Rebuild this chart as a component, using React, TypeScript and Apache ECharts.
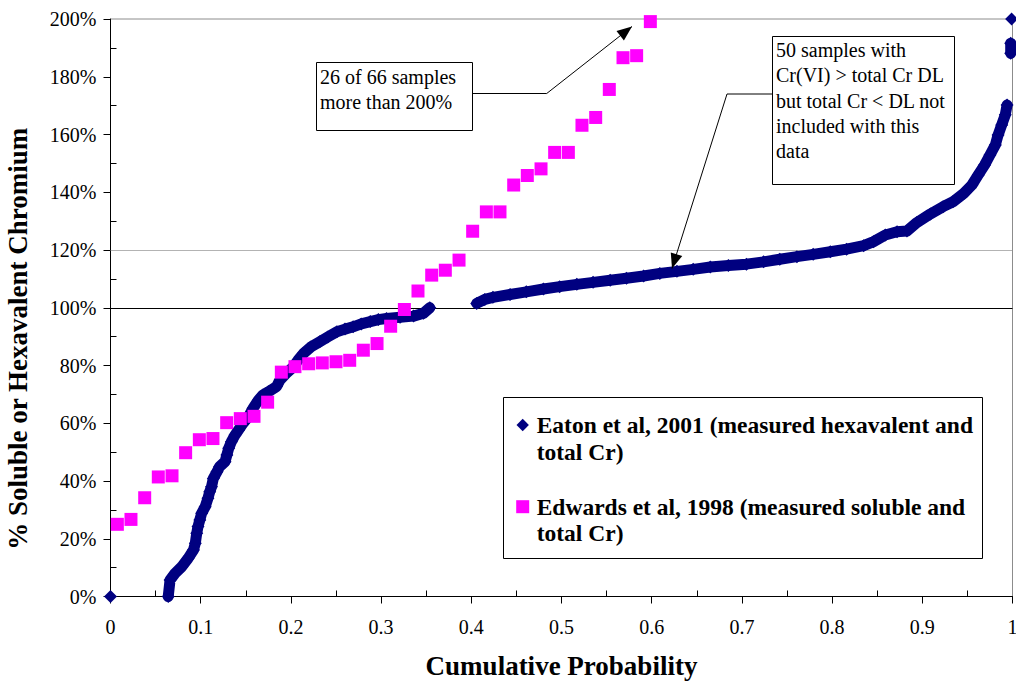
import React, { useEffect, useRef } from "react";
import * as echarts from "echarts";

// ---------- DATA ----------
// Edwards et al, 1998 (measured soluble and total Cr) — 40 of 66 samples shown (<= 200%)
const edwardsProb = [
  0.0076, 0.0227, 0.0379, 0.053, 0.0682, 0.0833, 0.0985, 0.1136, 0.1288, 0.1439,
  0.1591, 0.1742, 0.1894, 0.2045, 0.2197, 0.2348, 0.25, 0.2652, 0.2803, 0.2955,
  0.3106, 0.3258, 0.3409, 0.3561, 0.3712, 0.3864, 0.4015, 0.4167, 0.4318, 0.447,
  0.4621, 0.4773, 0.4924, 0.5076, 0.5227, 0.5379, 0.553, 0.5682, 0.5833, 0.5985,
];
const edwardsPct = [
  25, 26.7, 34.2, 41.4, 41.8, 49.8, 54.3, 54.7, 60.2, 61.6,
  62.4, 67.3, 77.7, 79.6, 80.6, 80.9, 81.3, 81.8, 85.3, 87.6,
  93.6, 99.4, 105.8, 111.3, 113, 116.5, 126.5, 133.2, 133.2, 142.5,
  145.8, 148.1, 153.8, 153.8, 163.2, 165.9, 175.6, 186.6, 187.3, 199.1,
];

const eatonRun0: [number, number][] = [[0, 0]];
const eatonRun1: [number, number][] = [
  [0.064, 0], [0.066, 5.7], [0.0715, 8.0], [0.079, 10.3], [0.086, 13.2], [0.092, 16.1],
  [0.094, 18.4], [0.0956, 21.9], [0.097, 24.2], [0.099, 26.5], [0.101, 28.8], [0.105, 31.1],
  [0.108, 34.0], [0.11, 36.3], [0.112, 38.0], [0.114, 40.9], [0.118, 43.2], [0.121, 45.0],
  [0.127, 46.7], [0.129, 49.0], [0.131, 51.3], [0.134, 53.6], [0.138, 55.9], [0.142, 57.7],
  [0.147, 60.0], [0.153, 62.3], [0.158, 65.2], [0.164, 68.0], [0.169, 69.8], [0.175, 70.9],
  [0.184, 72.7], [0.188, 75.0], [0.195, 77.3], [0.203, 79.6], [0.208, 81.9], [0.214, 84.2],
  [0.222, 86.4], [0.232, 88.2], [0.241, 89.9], [0.251, 91.7], [0.26, 92.6], [0.269, 93.4],
  [0.278, 94.4], [0.288, 95.2], [0.297, 95.9], [0.306, 96.3], [0.321, 96.7], [0.336, 97.1],
  [0.347, 98.1], [0.354, 100],
];
const eatonRun2: [number, number][] = [
  [0.406, 101.5], [0.415, 102.9], [0.424, 103.6], [0.443, 104.6], [0.461, 105.5], [0.48, 106.5],
  [0.498, 107.3], [0.517, 108.1], [0.535, 108.8], [0.554, 109.5], [0.572, 110.2], [0.591, 111.0],
  [0.609, 111.9], [0.628, 112.6], [0.646, 113.3], [0.665, 114.1], [0.685, 114.6], [0.705, 115.1],
  [0.724, 115.9], [0.742, 116.8], [0.761, 117.7], [0.779, 118.5], [0.798, 119.4], [0.816, 120.3],
  [0.835, 121.5], [0.846, 122.9], [0.859, 125.2], [0.872, 126.3], [0.883, 126.6], [0.894, 129.5],
  [0.909, 132.5], [0.923, 135.0], [0.934, 136.7], [0.946, 139.6], [0.955, 142.5], [0.962, 146.0],
  [0.969, 149.4], [0.975, 152.9], [0.981, 156.4], [0.984, 159.8], [0.988, 163.3], [0.992, 166.8],
  [0.994, 170.2],
];
const eatonRun3: [number, number][] = [[0.998, 188.1], [0.998, 191.6]];
const eatonRun4: [number, number][] = [[0.999, 200]];

const referenceSolid = 100;
const referenceDotted = 120;

const seriesNames = [
  "Eaton et al, 2001 (measured hexavalent and total Cr)",
  "Edwards et al, 1998 (measured soluble and total Cr)",
];
const legendLines = [
  "Eaton et al, 2001 (measured hexavalent and\ntotal Cr)",
  "Edwards et al, 1998 (measured soluble and\ntotal Cr)",
];
const note1 = "26 of 66 samples\nmore than 200%";
const note2 = "50 samples with\nCr(VI) > total Cr DL\nbut total Cr < DL not\nincluded with this\ndata";

const xTitle = "Cumulative Probability";
const yTitle = "% Soluble or Hexavalent Chromium";

// ---------- STYLE ----------
const SERIF = "'Liberation Serif', 'Times New Roman', serif";
const NAVY = "#000080";
const MAGENTA = "#FF00FF";

function arrowHead(from: [number, number], tip: [number, number], len = 15, half = 6) {
  const dx = tip[0] - from[0];
  const dy = tip[1] - from[1];
  const d = Math.sqrt(dx * dx + dy * dy);
  const ux = dx / d;
  const uy = dy / d;
  const bx = tip[0] - ux * len;
  const by = tip[1] - uy * len;
  return [
    [tip[0], tip[1]],
    [bx - uy * half, by + ux * half],
    [bx + uy * half, by - ux * half],
  ];
}

export default function App() {
  const ref = useRef<HTMLDivElement>(null);

  useEffect(() => {
    if (!ref.current) return;
    const chart = echarts.init(ref.current, null, { renderer: "svg" });

    const eatonData: any[] = [];
    [eatonRun0, eatonRun1, eatonRun2, eatonRun3, eatonRun4].forEach((run, i) => {
      if (i > 0) eatonData.push("-");
      run.forEach((p) => eatonData.push(p));
    });
    const edwardsData = edwardsProb.map((x, i) => [x, edwardsPct[i]]);

    const a1From: [number, number] = [546.7, 93.5];
    const a1Tip: [number, number] = [632, 26.5];
    const a2From: [number, number] = [727, 94];
    const a2Tip: [number, number] = [672, 268.5];

    chart.setOption({
      animation: false,
      backgroundColor: "#ffffff",
      textStyle: { fontFamily: SERIF, color: "#000" },
      grid: {
        left: 110.5,
        top: 19,
        width: 902,
        height: 577.5,
        containLabel: false,
        outerBoundsMode: "none",
        show: true,
        borderColor: "#8c8c8c",
        borderWidth: 1,
        backgroundColor: "transparent",
      },
      xAxis: {
        type: "value",
        min: 0,
        max: 1,
        interval: 0.1,
        name: xTitle,
        nameLocation: "middle",
        nameGap: 56,
        nameTextStyle: { fontFamily: SERIF, fontSize: 27, fontWeight: "bold", color: "#000" },
        axisLine: { show: true, onZero: false, lineStyle: { color: "#000", width: 1 } },
        axisTick: { show: true, length: 7, lineStyle: { color: "#000" } },
        minorTick: { show: true, splitNumber: 2, length: -6, lineStyle: { color: "#000" } },
        axisLabel: {
          fontFamily: SERIF,
          fontSize: 20,
          color: "#000",
          margin: 20,
          formatter: (v: number) => String(Math.round(v * 10) / 10),
        },
        splitLine: { show: false },
      },
      yAxis: {
        type: "value",
        min: 0,
        max: 200,
        interval: 20,
        name: yTitle,
        nameLocation: "middle",
        nameGap: 79,
        nameTextStyle: {
          fontFamily: SERIF,
          fontSize: 27,
          fontWeight: "bold",
          color: "#000",
          padding: [0, 62, 0, 0],
        },
        axisLine: { show: true, onZero: false, lineStyle: { color: "#000", width: 1 } },
        axisTick: { show: true, length: 7, lineStyle: { color: "#000" } },
        minorTick: { show: true, splitNumber: 2, length: -6, lineStyle: { color: "#000" } },
        axisLabel: {
          fontFamily: SERIF,
          fontSize: 20,
          color: "#000",
          margin: 14,
          formatter: "{value}%",
        },
        splitLine: { show: false },
      },
      series: [
        {
          name: seriesNames[0],
          type: "line",
          data: eatonData,
          connectNulls: false,
          showAllSymbol: true,
          symbol: "diamond",
          symbolSize: 13,
          itemStyle: { color: NAVY, opacity: 1 },
          lineStyle: { color: NAVY, width: 11, join: "round", cap: "round" },
          z: 3,
          markLine: {
            silent: true,
            symbol: ["none", "none"],
            label: { show: false },
            z: 1,
            data: [
              { yAxis: referenceSolid, lineStyle: { color: "#000", width: 1, type: "solid" } },
              { yAxis: referenceDotted, lineStyle: { color: "#666", width: 1, type: [1, 1] } },
            ],
          },
        },
        {
          name: seriesNames[1],
          type: "scatter",
          data: edwardsData,
          symbol: "rect",
          symbolSize: 13,
          itemStyle: { color: MAGENTA, opacity: 1 },
          z: 4,
        },
      ],
      graphic: [
        // note 1
        {
          type: "rect",
          z: 50,
          shape: { x: 316.5, y: 62.5, width: 156, height: 68 },
          style: { fill: "#fff", stroke: "#000", lineWidth: 1 },
        },
        {
          type: "text",
          z: 51,
          x: 320,
          y: 64,
          style: {
            text: note1,
            fontFamily: SERIF,
            fontSize: 20,
            lineHeight: 25,
            fill: "#000",
            verticalAlign: "top",
          },
        },
        {
          type: "polyline",
          z: 50,
          shape: { points: [[473, 93.5], a1From, a1Tip] },
          style: { stroke: "#000", lineWidth: 1, fill: null },
        },
        {
          type: "polygon",
          z: 51,
          shape: { points: arrowHead(a1From, a1Tip) },
          style: { fill: "#000" },
        },
        // note 2
        {
          type: "rect",
          z: 50,
          shape: { x: 772.5, y: 36.5, width: 182, height: 148 },
          style: { fill: "#fff", stroke: "#000", lineWidth: 1 },
        },
        {
          type: "text",
          z: 51,
          x: 776,
          y: 37.5,
          style: {
            text: note2,
            fontFamily: SERIF,
            fontSize: 20,
            lineHeight: 25.3,
            fill: "#000",
            verticalAlign: "top",
          },
        },
        {
          type: "polyline",
          z: 50,
          shape: { points: [[772.5, 94], a2From, a2Tip] },
          style: { stroke: "#000", lineWidth: 1, fill: null },
        },
        {
          type: "polygon",
          z: 51,
          shape: { points: arrowHead(a2From, a2Tip) },
          style: { fill: "#000" },
        },
        // legend
        {
          type: "rect",
          z: 50,
          shape: { x: 503.5, y: 397.5, width: 479, height: 161 },
          style: { fill: "#fff", stroke: "#000", lineWidth: 1 },
        },
        {
          type: "polygon",
          z: 51,
          shape: {
            points: [
              [522.7, 418.8],
              [528.9, 425],
              [522.7, 431.2],
              [516.5, 425],
            ],
          },
          style: { fill: NAVY },
        },
        {
          type: "text",
          z: 51,
          x: 536.7,
          y: 411.6,
          style: {
            text: legendLines[0],
            fontFamily: SERIF,
            fontSize: 23.5,
            fontWeight: "bold",
            lineHeight: 26.7,
            fill: "#000",
            verticalAlign: "top",
          },
        },
        {
          type: "rect",
          z: 51,
          shape: { x: 516.2, y: 500.2, width: 13, height: 13 },
          style: { fill: MAGENTA },
        },
        {
          type: "text",
          z: 51,
          x: 536.7,
          y: 493.3,
          style: {
            text: legendLines[1],
            fontFamily: SERIF,
            fontSize: 23.5,
            fontWeight: "bold",
            lineHeight: 26.7,
            fill: "#000",
            verticalAlign: "top",
          },
        },
      ],
    });

    return () => chart.dispose();
  }, []);

  return (
    <div
      ref={ref}
      style={{ position: "absolute", left: 0, top: 0, width: 1016, height: 683, background: "#fff" }}
    />
  );
}
